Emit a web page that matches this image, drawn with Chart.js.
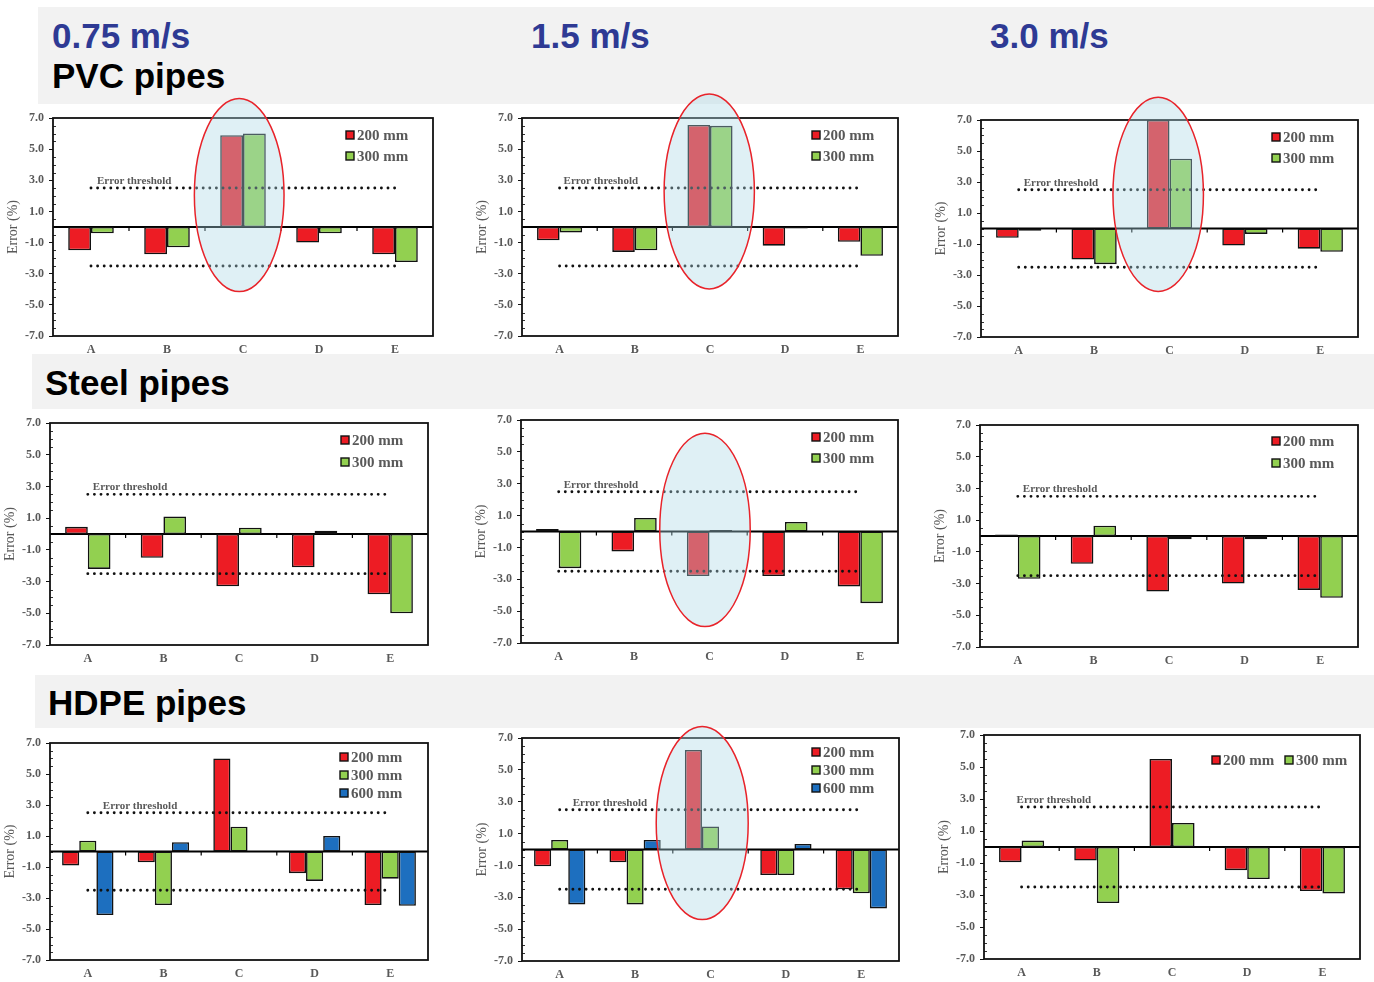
<!DOCTYPE html>
<html>
<head>
<meta charset="utf-8">
<title>Error by pipe material, flow velocity and pipe diameter</title>
<script src="https://cdn.jsdelivr.net/npm/chart.js@4.4.1/dist/chart.umd.min.js"></script>
<style>
  html, body { margin: 0; padding: 0; background: #fff; }
  body { width: 1374px; height: 982px; position: relative; overflow: hidden; }
  .band { position: absolute; background: #f2f2f2; }
  .head { position: absolute; font-family: "Liberation Sans", Arial, sans-serif; font-weight: bold;
          font-size: 35px; line-height: 35px; white-space: nowrap; }
  .speed { color: #2e3a94; }
  .pipe { color: #000; }
  canvas { position: absolute; }
</style>
</head>
<body>
<div class="band" style="left:38px;top:7px;width:1336px;height:97px"></div>
<div class="band" style="left:32px;top:354px;width:1342px;height:55px"></div>
<div class="band" style="left:35px;top:675px;width:1339px;height:53px"></div>

<div class="head speed" id="sp0" style="left:52px;top:18px"></div>
<div class="head speed" id="sp1" style="left:531px;top:18px"></div>
<div class="head speed" id="sp2" style="left:990px;top:18px"></div>
<div class="head pipe" id="mt0" style="left:52px;top:58px"></div>
<div class="head pipe" id="mt1" style="left:45px;top:365px"></div>
<div class="head pipe" id="mt2" style="left:48px;top:685px"></div>

<script>
// ---- chart data ----
const categories = ['A', 'B', 'C', 'D', 'E'];
const yTicks = [-7, -5, -3, -1, 1, 3, 5, 7];
const THRESHOLD = 2.5;
const speeds = ['0.75 m/s', '1.5 m/s', '3.0 m/s'];
const materials = ['PVC pipes', 'Steel pipes', 'HDPE pipes'];
const seriesLabels = ['200 mm', '300 mm', '600 mm'];

// PVC pipes
const pvc075_200 = [-1.5, -1.75, 5.9, -1.0, -1.75];
const pvc075_300 = [-0.4, -1.3, 6.0, -0.4, -2.25];
const pvc15_200  = [-0.85, -1.6, 6.55, -1.2, -0.95];
const pvc15_300  = [-0.35, -1.5, 6.5, -0.1, -1.85];
const pvc30_200  = [-0.6, -2.0, 7.0, -1.1, -1.3];
const pvc30_300  = [-0.15, -2.3, 4.5, -0.35, -1.5];
// Steel pipes
const steel075_200 = [0.45, -1.5, -3.3, -2.1, -3.8];
const steel075_300 = [-2.2, 1.1, 0.4, 0.2, -5.0];
const steel15_200  = [0.15, -1.25, -2.8, -2.8, -3.45];
const steel15_300  = [-2.3, 0.85, 0.1, 0.6, -4.5];
const steel30_200  = [0.1, -1.75, -3.5, -3.0, -3.4];
const steel30_300  = [-2.7, 0.65, -0.2, -0.2, -3.9];
// HDPE pipes
const hdpe075_200 = [-0.9, -0.7, 6.0, -1.4, -3.45];
const hdpe075_300 = [0.7, -3.45, 1.6, -1.9, -1.75];
const hdpe075_600 = [-4.1, 0.6, null, 1.0, -3.5];
const hdpe15_200  = [-1.05, -0.8, 6.25, -1.6, -2.5];
const hdpe15_300  = [0.6, -3.45, 1.45, -1.6, -2.75];
const hdpe15_600  = [-3.45, 0.6, null, 0.35, -3.7];
const hdpe30_200  = [-0.95, -0.85, 5.5, -1.45, -2.75];
const hdpe30_300  = [0.4, -3.5, 1.5, -2.0, -2.9];

// ---- styling ----
const seriesColors = ['#ed1c24', '#92d050', '#1d6fbf'];
const SERIF = '"Liberation Serif", "Times New Roman", serif';
const GREY = '#595959';

speeds.forEach((s, i) => document.getElementById('sp' + i).textContent = s);
materials.forEach((m, i) => document.getElementById('mt' + i).textContent = m);

// plot rectangles [left, top, right, bottom] in page pixels
const panels = [
  { plot: [53, 118, 433, 336],  xH: 18, series: [pvc075_200, pvc075_300],
    legend: { dx: 87, dy: 17, gap: 21 }, labelDx: 6,
    ellipse: { x: 1.95, y: 2.05, rx: 0.59, ry: 6.2 } },
  { plot: [522, 118, 898, 336], xH: 18, series: [pvc15_200, pvc15_300],
    legend: { dx: 86, dy: 17, gap: 21 }, labelDx: 4,
    ellipse: { x: 1.99, y: 2.28, rx: 0.6, ry: 6.26 } },
  { plot: [981, 120, 1358, 337], xH: 17, series: [pvc30_200, pvc30_300],
    legend: { dx: 86, dy: 17, gap: 21 }, labelDx: 5,
    ellipse: { x: 1.85, y: 2.2, rx: 0.6, ry: 6.26 } },

  { plot: [50, 423, 428, 645],  xH: 26, series: [steel075_200, steel075_300],
    legend: { dx: 87, dy: 17, gap: 22 }, labelDx: 5 },
  { plot: [521, 420, 898, 643], xH: 26, series: [steel15_200, steel15_300],
    legend: { dx: 86, dy: 17, gap: 21 }, labelDx: 5,
    ellipse: { x: 1.94, y: 0.1, rx: 0.6, ry: 6.07 } },
  { plot: [980, 425, 1358, 647], xH: 26, series: [steel30_200, steel30_300],
    legend: { dx: 86, dy: 16, gap: 22 }, labelDx: 5 },

  { plot: [50, 743, 428, 960],  xH: 26, series: [hdpe075_200, hdpe075_300, hdpe075_600],
    legend: { dx: 88, dy: 14, gap: 18 }, labelDx: 15 },
  { plot: [522, 738, 899, 961], xH: 26, series: [hdpe15_200, hdpe15_300, hdpe15_600],
    legend: { dx: 87, dy: 14, gap: 18 }, labelDx: 13,
    ellipse: { x: 1.89, y: 1.66, rx: 0.61, ry: 6.06 } },
  { plot: [984, 735, 1360, 959], xH: 26, series: [hdpe30_200, hdpe30_300],
    legend: { dx: 148, dy: 25, gap: 73, horizontal: true }, labelDx: -5 }
];

const Y_AXIS_W = 53;
const PAD_TOP = 30;
const PAD_RIGHT = 8;

// frame, zero line, minor ticks, threshold caption, legend and highlight ellipse
const panelDecor = {
  id: 'panelDecor',
  beforeDatasetsDraw(chart, args, opts) {
    const { ctx, chartArea: a, scales: { x, y } } = chart;
    ctx.save();
    // minor ticks on the value axis
    ctx.strokeStyle = '#333';
    ctx.lineWidth = 1;
    for (let v = yTicks[0]; v <= yTicks[yTicks.length - 1]; v += 0.5) {
      if (yTicks.includes(v)) continue;
      const py = Math.round(y.getPixelForValue(v)) + 0.5;
      ctx.beginPath();
      ctx.moveTo(a.left, py);
      ctx.lineTo(a.left + 3, py);
      ctx.stroke();
    }
    // zero line with category separators
    const y0 = y.getPixelForValue(0);
    ctx.strokeStyle = '#000';
    ctx.lineWidth = 1.8;
    ctx.beginPath();
    ctx.moveTo(a.left, y0);
    ctx.lineTo(a.right, y0);
    ctx.stroke();
    ctx.lineWidth = 1.2;
    for (let i = 1; i < categories.length; i++) {
      const px = (x.getPixelForValue(i - 1) + x.getPixelForValue(i)) / 2;
      ctx.beginPath();
      ctx.moveTo(px, y0);
      ctx.lineTo(px, y0 + 4);
      ctx.stroke();
    }
    ctx.restore();
  },
  afterDatasetsDraw(chart, args, opts) {
    const { ctx, chartArea: a, scales: { x, y } } = chart;
    ctx.save();
    // plot frame
    ctx.strokeStyle = '#111';
    ctx.lineWidth = 1.8;
    ctx.strokeRect(a.left, a.top, a.right - a.left, a.bottom - a.top);

    // threshold caption
    ctx.font = 'bold 11px ' + SERIF;
    ctx.fillStyle = GREY;
    ctx.textBaseline = 'middle';
    ctx.textAlign = 'left';
    ctx.fillText('Error threshold', x.getPixelForValue(0) + opts.labelDx, y.getPixelForValue(THRESHOLD) - 7);

    // legend
    const lg = opts.legend;
    const bars = chart.data.datasets.filter(d => d.type === 'bar');
    ctx.font = 'bold 15px ' + SERIF;
    bars.forEach((d, i) => {
      const sx = a.right - lg.dx + (lg.horizontal ? i * lg.gap : 0);
      const sy = a.top + lg.dy + (lg.horizontal ? 0 : i * lg.gap);
      ctx.fillStyle = d.backgroundColor;
      ctx.fillRect(sx, sy - 4, 8, 8);
      ctx.strokeStyle = '#111';
      ctx.lineWidth = 1.4;
      ctx.strokeRect(sx, sy - 4, 8, 8);
      ctx.fillStyle = GREY;
      ctx.fillText(d.label, sx + 11, sy + 1);
    });

    // highlight ellipse
    const e = opts.ellipse;
    if (e) {
      const cx = x.getPixelForValue(e.x);
      const cy = y.getPixelForValue(e.y);
      const rx = e.rx * (x.getPixelForValue(1) - x.getPixelForValue(0));
      const ry = e.ry * (y.getPixelForValue(0) - y.getPixelForValue(1));
      ctx.beginPath();
      ctx.ellipse(cx, cy, rx, ry, 0, 0, Math.PI * 2);
      ctx.fillStyle = 'rgba(172, 216, 230, 0.38)';
      ctx.fill();
      ctx.strokeStyle = '#e8232a';
      ctx.lineWidth = 1.5;
      ctx.stroke();
    }
    ctx.restore();
  }
};

const thresholdLine = v => ({
  type: 'line',
  label: 'threshold',
  data: categories.map(() => v),
  borderColor: '#111',
  borderWidth: 2.9,
  borderDash: [0, 6.6],
  borderCapStyle: 'round',
  pointRadius: 0,
  fill: false,
  tension: 0,
  order: -1
});

panels.forEach(p => {
  const [l, t, r, b] = p.plot;
  const canvas = document.createElement('canvas');
  const w = Y_AXIS_W + (r - l) + PAD_RIGHT;
  const h = PAD_TOP + (b - t) + p.xH;
  canvas.width = w;
  canvas.height = h;
  canvas.style.left = (l - Y_AXIS_W) + 'px';
  canvas.style.top = (t - PAD_TOP) + 'px';
  canvas.style.width = w + 'px';
  canvas.style.height = h + 'px';
  document.body.appendChild(canvas);

  const catPct = p.series.length === 3 ? 0.68 : 0.6;
  const datasets = p.series.map((vals, i) => ({
    type: 'bar',
    label: seriesLabels[i],
    data: vals,
    backgroundColor: seriesColors[i],
    borderColor: '#111',
    borderWidth: 1.6,
    borderSkipped: false,
    categoryPercentage: catPct,
    barPercentage: 1,
    order: 1
  }));
  datasets.push(thresholdLine(THRESHOLD), thresholdLine(-THRESHOLD));

  new Chart(canvas, {
    type: 'bar',
    data: { labels: categories, datasets },
    options: {
      responsive: false,
      animation: false,
      devicePixelRatio: 1,
      layout: { padding: { top: PAD_TOP, right: PAD_RIGHT, left: 0, bottom: 0 } },
      plugins: {
        legend: { display: false },
        tooltip: { enabled: false },
        panelDecor: { legend: p.legend, labelDx: p.labelDx, ellipse: p.ellipse }
      },
      scales: {
        x: {
          grid: { display: false, drawTicks: false },
          border: { display: false },
          ticks: { color: GREY, padding: 7, font: { family: SERIF, size: 12, weight: 'bold' } },
          afterFit: s => { s.height = p.xH; }
        },
        y: {
          min: -7, max: 7,
          afterBuildTicks: s => { s.ticks = yTicks.map(v => ({ value: v })); },
          grid: { drawOnChartArea: false, drawTicks: true, tickLength: 4, color: '#111' },
          border: { display: false },
          ticks: { color: GREY, padding: 5, font: { family: SERIF, size: 12, weight: 'bold' },
                   callback: v => Number(v).toFixed(1) },
          title: { display: true, text: 'Error (%)', color: GREY,
                   font: { family: SERIF, size: 14 }, padding: { top: 5, bottom: 0 } },
          afterFit: s => { s.width = Y_AXIS_W; }
        }
      }
    },
    plugins: [panelDecor]
  });
});
</script>
</body>
</html>
